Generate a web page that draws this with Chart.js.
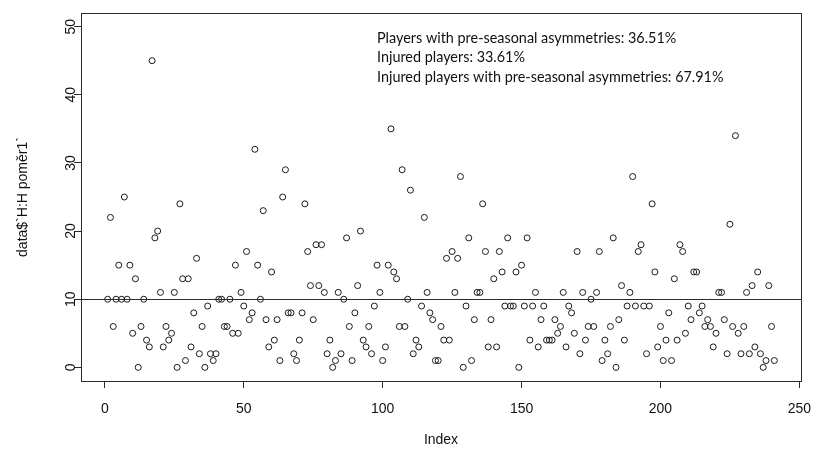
<!DOCTYPE html>
<html>
<head>
<meta charset="utf-8">
<script src="https://cdn.jsdelivr.net/npm/chart.js@4.4.1/dist/chart.umd.min.js"></script>
<style>
  html, body { margin: 0; padding: 0; background: #fff; }
  #wrap { width: 814px; height: 453px; }
</style>
</head>
<body>
<div id="wrap"><canvas id="chart" width="814" height="453"></canvas></div>
<script>
// H:H ratio per player, in index order (players 1..241)
const ratio = [
  10, 22, 6, 10, 15, 10, 25, 10, 15, 5, 13, 0, 6, 10, 4, 3, 45, 19, 20, 11,
  3, 6, 4, 5, 11, 0, 24, 13, 1, 13, 3, 8, 16, 2, 6, 0, 9, 2, 1, 2,
  10, 10, 6, 6, 10, 5, 15, 5, 11, 9, 17, 7, 8, 32, 15, 10, 23, 7, 3, 14,
  4, 7, 1, 25, 29, 8, 8, 2, 1, 4, 8, 24, 17, 12, 7, 18, 12, 18, 11, 2,
  4, 0, 1, 11, 2, 10, 19, 6, 1, 8, 12, 20, 4, 3, 6, 2, 9, 15, 11, 1,
  3, 15, 35, 14, 13, 6, 29, 6, 10, 26, 2, 4, 3, 9, 22, 11, 8, 7, 1, 1,
  6, 4, 16, 4, 17, 11, 16, 28, 0, 9, 19, 1, 7, 11, 11, 24, 17, 3, 7, 13,
  3, 17, 14, 9, 19, 9, 9, 14, 0, 15, 9, 19, 4, 9, 11, 3, 7, 9, 4, 4,
  4, 7, 5, 6, 11, 3, 9, 8, 5, 17, 2, 11, 4, 6, 10, 6, 11, 17, 1, 4,
  2, 6, 19, 0, 7, 12, 4, 9, 11, 28, 9, 17, 18, 9, 2, 9, 24, 14, 3, 6,
  1, 4, 8, 1, 13, 4, 18, 17, 5, 9, 7, 14, 14, 8, 9, 6, 7, 6, 3, 5,
  11, 11, 7, 2, 21, 6, 34, 5, 2, 6, 11, 2, 12, 3, 14, 2, 0, 1, 12, 6,
  1
];
const xTicks = [0, 50, 100, 150, 200, 250];
const yTicks = [0, 10, 20, 30, 40, 50];
const threshold = 10;
const notes = [
  'Players with pre-seasonal asymmetries: 36.51%',
  'Injured players: 33.61%',
  'Injured players with pre-seasonal asymmetries: 67.91%'
];

const n = ratio.length;
const points = ratio.map((v, i) => ({ x: i + 1, y: v }));
// R pads the axis range by 4% on each side
const xPad = 0.04 * (n - 1);
const yPad = 0.04 * (yTicks[yTicks.length - 1] - yTicks[0]);

const axisFont = { family: "'Liberation Sans', Arial, sans-serif", size: 14 };
const ink = '#2b2b2b';

// box around the plot + the horizontal line at the threshold + notes
const extras = {
  id: 'extras',
  afterDatasetsDraw(chart) {
    const { ctx, chartArea: a, scales } = chart;
    ctx.save();
    ctx.strokeStyle = ink;
    ctx.lineWidth = 1;
    const yLine = Math.round(scales.y.getPixelForValue(threshold)) + 0.5;
    ctx.beginPath();
    ctx.moveTo(a.left, yLine);
    ctx.lineTo(a.right, yLine);
    ctx.stroke();
    ctx.strokeRect(Math.round(a.left) + 0.5, Math.round(a.top) + 0.5,
      Math.round(a.right - a.left), Math.round(a.bottom - a.top));

    ctx.fillStyle = '#111';
    ctx.font = "14.4px Lato, 'Open Sans', sans-serif";
    ctx.textBaseline = 'middle';
    ctx.textAlign = 'left';
    notes.forEach((t, i) => ctx.fillText(t, 377, 38 + i * 19.5));
    ctx.restore();
  }
};

new Chart(document.getElementById('chart').getContext('2d'), {
  type: 'scatter',
  data: {
    datasets: [{
      data: points,
      pointStyle: 'circle',
      pointRadius: 3,
      pointHoverRadius: 3,
      borderWidth: 1,
      borderColor: '#1a1a1a',
      backgroundColor: 'rgba(0,0,0,0)'
    }]
  },
  options: {
    responsive: false,
    animation: false,
    devicePixelRatio: 1,
    layout: { padding: { top: 13, right: 13, left: 0, bottom: 0 } },
    plugins: { legend: { display: false }, tooltip: { enabled: false } },
    scales: {
      x: {
        type: 'linear',
        min: 1 - xPad,
        max: n + xPad,
        afterBuildTicks: s => { s.ticks = xTicks.map(v => ({ value: v })); },
        afterFit: s => { s.height = 72; s.paddingLeft = 0; s.paddingRight = 0; },
        border: { display: false },
        grid: { drawOnChartArea: false, tickLength: 7, color: ink },
        ticks: { color: '#111', font: axisFont, padding: 13, maxRotation: 0, minRotation: 0 },
        title: { display: true, text: 'Index', color: '#111', font: axisFont, padding: { top: 0, bottom: 4 } }
      },
      y: {
        type: 'linear',
        min: yTicks[0] - yPad,
        max: yTicks[yTicks.length - 1] + yPad,
        afterBuildTicks: s => { s.ticks = yTicks.map(v => ({ value: v })); },
        afterFit: s => { s.width = 81; s.paddingTop = 0; s.paddingBottom = 0; },
        border: { display: false },
        grid: { drawOnChartArea: false, tickLength: 7, color: ink },
        ticks: { color: '#111', font: axisFont, padding: -5, minRotation: 90, maxRotation: 90, crossAlign: 'center' },
        title: { display: true, text: 'data$`H:H poměr1`', color: '#111', font: axisFont, padding: { top: 15, bottom: 0 } }
      }
    }
  },
  plugins: [extras]
});
</script>
</body>
</html>
